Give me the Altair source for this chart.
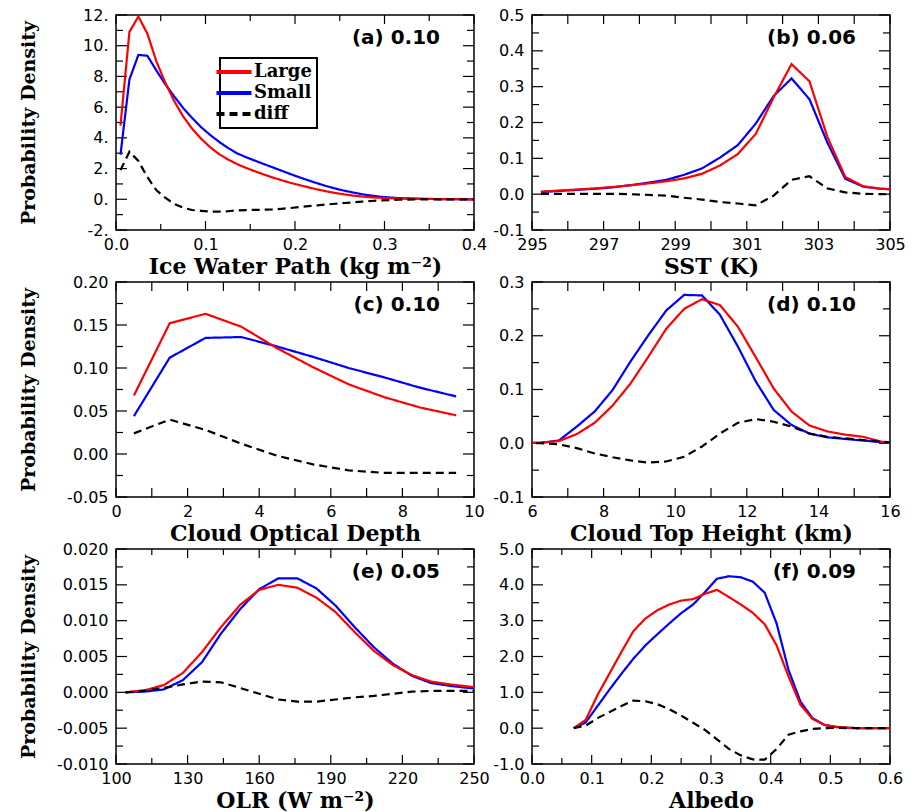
import altair as alt
import pandas as pd

# ---------------------------------------------------------------- data
SERIES = ["Large", "Small", "diff"]
COLORS = ["#ff0000", "#0000ff", "#000000"]
DASHES = [[1, 0], [1, 0], [8, 5]]

# (a) ice water path
a_x = [0.005, 0.015, 0.025, 0.035, 0.045, 0.055, 0.065, 0.075, 0.085, 0.095,
       0.105, 0.115, 0.125, 0.135, 0.145, 0.155, 0.165, 0.175, 0.185, 0.195,
       0.205, 0.215, 0.225, 0.235, 0.245, 0.255, 0.265, 0.275, 0.285, 0.295,
       0.305, 0.315, 0.325, 0.335, 0.345, 0.355, 0.365, 0.375, 0.385, 0.395, 0.405]
a_large = [4.8, 10.9, 11.9, 10.8, 9.0, 7.6, 6.4, 5.4, 4.6, 3.95,
           3.4, 2.95, 2.6, 2.3, 2.05, 1.83, 1.62, 1.42, 1.24, 1.07,
           0.92, 0.78, 0.64, 0.52, 0.41, 0.32, 0.24, 0.18, 0.13, 0.10,
           0.07, 0.05, 0.04, 0.03, 0.02, 0.02, 0.01, 0.01, 0.01, 0.0, 0.0]
a_small = [2.9, 7.8, 9.4, 9.35, 8.4, 7.5, 6.7, 5.95, 5.3, 4.7,
           4.2, 3.75, 3.35, 3.0, 2.75, 2.52, 2.3, 2.08, 1.86, 1.64,
           1.43, 1.23, 1.04, 0.86, 0.70, 0.56, 0.44, 0.33, 0.24, 0.17,
           0.12, 0.08, 0.06, 0.04, 0.03, 0.02, 0.01, 0.01, 0.0, 0.0, 0.0]
a_diff = [1.9, 3.1, 2.5, 1.45, 0.6, 0.1, -0.3, -0.55, -0.7, -0.75,
          -0.8, -0.8, -0.78, -0.72, -0.7, -0.69, -0.68, -0.66, -0.62, -0.57,
          -0.51, -0.45, -0.4, -0.34, -0.29, -0.24, -0.2, -0.15, -0.11, -0.07,
          -0.05, -0.03, -0.02, -0.01, -0.01, 0.0, 0.0, 0.0, 0.0, 0.0, 0.0]

# (b) sea surface temperature
b_x = [295.25, 295.75, 296.25, 296.75, 297.25, 297.75, 298.25, 298.75, 299.25, 299.75,
       300.25, 300.75, 301.25, 301.75, 302.25, 302.75, 303.25, 303.75, 304.25, 304.75, 305.25]
b_large = [0.007, 0.010, 0.013, 0.016, 0.020, 0.025, 0.030, 0.036, 0.044, 0.057,
           0.080, 0.112, 0.168, 0.270, 0.363, 0.315, 0.160, 0.048, 0.022, 0.015, 0.012]
b_small = [0.006, 0.009, 0.012, 0.015, 0.019, 0.025, 0.032, 0.040, 0.054, 0.072,
           0.102, 0.137, 0.197, 0.274, 0.323, 0.265, 0.144, 0.043, 0.021, 0.015, 0.013]
b_diff = [0.001, 0.001, 0.001, 0.001, 0.001, 0.000, -0.002, -0.004, -0.010, -0.015,
          -0.022, -0.026, -0.031, -0.004, 0.040, 0.050, 0.016, 0.005, 0.001, 0.000, -0.001]

# (c) cloud optical depth
c_x = [0.5, 1.5, 2.5, 3.5, 4.5, 5.5, 6.5, 7.5, 8.5, 9.5]
c_large = [0.068, 0.152, 0.163, 0.148, 0.123, 0.101, 0.081, 0.066, 0.054, 0.045]
c_small = [0.044, 0.112, 0.135, 0.136, 0.125, 0.113, 0.100, 0.089, 0.077, 0.067]
c_diff = [0.024, 0.040, 0.028, 0.012, -0.002, -0.012, -0.019, -0.022, -0.022, -0.022]

# (d) cloud top height
d_x = [5.75, 6.25, 6.75, 7.25, 7.75, 8.25, 8.75, 9.25, 9.75, 10.25, 10.75,
       11.25, 11.75, 12.25, 12.75, 13.25, 13.75, 14.25, 14.75, 15.25, 15.75, 16.25]
d_large = [0.0, 0.001, 0.004, 0.017, 0.038, 0.070, 0.111, 0.161, 0.213, 0.250, 0.268,
           0.257, 0.217, 0.160, 0.102, 0.059, 0.033, 0.022, 0.016, 0.012, 0.003, 0.0]
d_small = [0.0, 0.001, 0.005, 0.031, 0.059, 0.099, 0.152, 0.201, 0.247, 0.276, 0.275,
           0.239, 0.180, 0.115, 0.062, 0.034, 0.018, 0.011, 0.008, 0.005, 0.002, 0.0]
d_diff = [0.0, 0.0, -0.002, -0.009, -0.019, -0.026, -0.032, -0.036, -0.034, -0.025, -0.006,
          0.018, 0.038, 0.045, 0.040, 0.031, 0.018, 0.012, 0.009, 0.006, 0.003, 0.0]

# (e) outgoing longwave radiation
e_x = [104, 112, 120, 128, 136, 144, 152, 160, 168, 176,
       184, 192, 200, 208, 216, 224, 232, 240, 248, 256]
e_large = [0.0000, 0.0003, 0.0010, 0.0027, 0.0056, 0.0091, 0.0122, 0.0143, 0.0150, 0.0146,
           0.0132, 0.0112, 0.0084, 0.0058, 0.0038, 0.0024, 0.0015, 0.0011, 0.0008, 0.0006]
e_small = [0.0000, 0.0001, 0.0004, 0.0017, 0.0042, 0.0082, 0.0116, 0.0144, 0.0159, 0.0159,
           0.0145, 0.0121, 0.0091, 0.0063, 0.0040, 0.0023, 0.0013, 0.0009, 0.0006, 0.0005]
e_diff = [0.0000, 0.0002, 0.0006, 0.0011, 0.0015, 0.0014, 0.0006, -0.0002, -0.0010, -0.0013,
          -0.0013, -0.0010, -0.0007, -0.0005, -0.0002, 0.0001, 0.0002, 0.0002, 0.0002, 0.0002]

# (f) albedo
f_x = [0.07, 0.09, 0.11, 0.13, 0.15, 0.17, 0.19, 0.21, 0.23, 0.25, 0.27, 0.29, 0.31, 0.33,
       0.35, 0.37, 0.39, 0.41, 0.43, 0.45, 0.47, 0.49, 0.51, 0.53, 0.55, 0.57, 0.59, 0.61]
f_large = [0.0, 0.23, 0.93, 1.53, 2.13, 2.71, 3.06, 3.29, 3.45, 3.56, 3.60, 3.75, 3.86, 3.66,
           3.45, 3.22, 2.90, 2.31, 1.44, 0.65, 0.26, 0.09, 0.04, 0.01, 0.0, 0.0, 0.0, 0.0]
f_small = [0.0, 0.16, 0.62, 1.08, 1.52, 1.94, 2.31, 2.62, 2.92, 3.21, 3.45, 3.80, 4.17, 4.24,
           4.21, 4.09, 3.78, 2.92, 1.62, 0.74, 0.28, 0.09, 0.03, 0.01, 0.0, 0.0, 0.0, 0.0]
f_diff = [0.0, 0.07, 0.28, 0.45, 0.62, 0.77, 0.75, 0.67, 0.53, 0.35, 0.15, -0.05, -0.31, -0.58,
          -0.76, -0.87, -0.88, -0.58, -0.18, -0.09, -0.02, 0.0, 0.01, 0.0, 0.0, 0.0, 0.0, 0.0]

# ---------------------------------------------------------------- styling
W, H = 358, 215
LABEL_FONT = "DejaVu Sans"
TITLE_FONT = "DejaVu Serif"


def num_expr(fmt):
    # d3 formats negatives with a typographic minus; use a plain hyphen instead
    return "replace(format(datum.value, '" + fmt + "'), '\u2212', '-')"


def long_frame(x, large, small, diff):
    rows = []
    for name, vals in zip(SERIES, (large, small, diff)):
        for xv, yv in zip(x, vals):
            rows.append({"x": xv, "y": yv, "series": name})
    return pd.DataFrame(rows)


def panel(tag, x, large, small, diff, xdom, ydom, xlabels, xexpr, ylabels, yexpr,
          xmajor, xminor, ymajor, yminor, xtitle, ytitle=None, legend=False):
    df = long_frame(x, large, small, diff)
    xscale = alt.Scale(domain=xdom, nice=False, zero=False)
    yscale = alt.Scale(domain=ydom, nice=False, zero=False)

    xaxis = alt.Axis(values=xlabels, labelExpr=xexpr, title=xtitle, ticks=False, tickSize=0,
                     domain=False, grid=False, labelPadding=6, labelFlush=False,
                     labelOverlap=False, titleFontSize=22, titleX=W / 2, titleY=43,
                     titleAlign="center", titleBaseline="alphabetic")
    if ytitle:
        yaxis = alt.Axis(values=ylabels, labelExpr=yexpr, title=ytitle, ticks=False, tickSize=0,
                         domain=False, grid=False, labelPadding=8, labelFlush=False,
                         labelOverlap=False, titleFontSize=19, titleX=-88, titleY=H / 2,
                         titleAngle=270, titleAlign="center", titleBaseline="middle")
    else:
        yaxis = alt.Axis(values=ylabels, labelExpr=yexpr, title=None, ticks=False, tickSize=0,
                         domain=False, grid=False, labelPadding=8, labelFlush=False,
                         labelOverlap=False)

    if legend:
        leg = alt.Legend(orient="none", legendX=104, legendY=43, title=None,
                         symbolType="M-2.5,0H2.5", symbolSize=196, symbolStrokeWidth=4,
                         labelFont=TITLE_FONT, labelFontWeight="bold", labelFontSize=18,
                         labelColor="black", labelOffset=11, strokeColor="black",
                         fillColor="white", padding=5, rowPadding=3)
    else:
        leg = None

    # inward frame ticks on all four sides
    def ticks(values, side, length):
        base = alt.Chart(pd.DataFrame({"v": values})).mark_rule(color="black", strokeWidth=1.2)
        if side == "bottom":
            return base.encode(x=alt.X("v:Q", scale=xscale, axis=xaxis),
                               y=alt.value(H), y2=alt.value(H - length))
        if side == "top":
            return base.encode(x=alt.X("v:Q", scale=xscale, axis=xaxis),
                               y=alt.value(0), y2=alt.value(length))
        if side == "left":
            return base.encode(y=alt.Y("v:Q", scale=yscale, axis=yaxis),
                               x=alt.value(0), x2=alt.value(length))
        return base.encode(y=alt.Y("v:Q", scale=yscale, axis=yaxis),
                           x=alt.value(W), x2=alt.value(W - length))

    tick_layers = [
        ticks(xmajor, "bottom", 9), ticks(xmajor, "top", 9),
        ticks(ymajor, "left", 11), ticks(ymajor, "right", 11),
    ]
    if xminor:
        tick_layers += [ticks(xminor, "bottom", 6), ticks(xminor, "top", 6)]
    if yminor:
        tick_layers += [ticks(yminor, "left", 7), ticks(yminor, "right", 7)]

    def series_line(name):
        return alt.Chart(df).transform_filter(
            alt.datum.series == name
        ).mark_line(strokeWidth=2.2, clip=True).encode(
            x=alt.X("x:Q", scale=xscale, axis=xaxis),
            y=alt.Y("y:Q", scale=yscale, axis=yaxis),
            color=alt.Color("series:N", scale=alt.Scale(domain=SERIES, range=COLORS), legend=leg),
            strokeDash=alt.StrokeDash("series:N", scale=alt.Scale(domain=SERIES, range=DASHES),
                                      legend=leg),
        )

    label = alt.Chart(pd.DataFrame({"t": [tag]})).mark_text(
        align="right", baseline="alphabetic", font=LABEL_FONT, fontWeight="bold",
        fontSize=20, color="black"
    ).encode(text="t:N", x=alt.value(W - 34), y=alt.value(29))

    return alt.layer(*tick_layers, series_line("Small"), series_line("Large"),
                     series_line("diff"), label).properties(width=W, height=H)


pa = panel("(a) 0.10", a_x, a_large, a_small, a_diff, [0, 0.4], [-2, 12],
           [0, 0.1, 0.2, 0.3, 0.4], num_expr(".1f"),
           [-2, 0, 2, 4, 6, 8, 10, 12], "datum.value + '.'",
           [0, 0.1, 0.2, 0.3, 0.4], [0.05, 0.15, 0.25, 0.35],
           [-2, 0, 2, 4, 6, 8, 10, 12], [-1, 1, 3, 5, 7, 9, 11],
           "Ice Water Path (kg m\u207b\u00b2)", "Probability Density", legend=True)

pb = panel("(b) 0.06", b_x, b_large, b_small, b_diff, [295, 305], [-0.1, 0.5],
           [295, 297, 299, 301, 303, 305], num_expr("d"),
           [-0.1, 0.0, 0.1, 0.2, 0.3, 0.4, 0.5], num_expr(".1f"),
           [295, 296, 297, 298, 299, 300, 301, 302, 303, 304, 305], [],
           [-0.1, 0.0, 0.1, 0.2, 0.3, 0.4, 0.5], [-0.05, 0.05, 0.15, 0.25, 0.35, 0.45],
           "SST (K)")

pc = panel("(c) 0.10", c_x, c_large, c_small, c_diff, [0, 10], [-0.05, 0.20],
           [0, 2, 4, 6, 8, 10], num_expr("d"),
           [-0.05, 0.0, 0.05, 0.10, 0.15, 0.20], num_expr(".2f"),
           [0, 1, 2, 3, 4, 5, 6, 7, 8, 9, 10], [],
           [-0.05, 0.0, 0.05, 0.10, 0.15, 0.20], [-0.025, 0.025, 0.075, 0.125, 0.175],
           "Cloud Optical Depth", "Probability Density")

pd_ = panel("(d) 0.10", d_x, d_large, d_small, d_diff, [6, 16], [-0.1, 0.3],
            [6, 8, 10, 12, 14, 16], num_expr("d"),
            [-0.1, 0.0, 0.1, 0.2, 0.3], num_expr(".1f"),
            [6, 7, 8, 9, 10, 11, 12, 13, 14, 15, 16], [],
            [-0.1, 0.0, 0.1, 0.2, 0.3], [-0.05, 0.05, 0.15, 0.25],
            "Cloud Top Height (km)")

pe = panel("(e) 0.05", e_x, e_large, e_small, e_diff, [100, 250], [-0.010, 0.020],
           [100, 130, 160, 190, 220, 250], num_expr("d"),
           [-0.010, -0.005, 0.0, 0.005, 0.010, 0.015, 0.020], num_expr(".3f"),
           [100, 130, 160, 190, 220, 250], [115, 145, 175, 205, 235],
           [-0.010, -0.005, 0.0, 0.005, 0.010, 0.015, 0.020],
           [-0.0075, -0.0025, 0.0025, 0.0075, 0.0125, 0.0175],
           "OLR (W m\u207b\u00b2)", "Probability Density")

pf = panel("(f) 0.09", f_x, f_large, f_small, f_diff, [0, 0.6], [-1, 5],
           [0, 0.1, 0.2, 0.3, 0.4, 0.5, 0.6], num_expr(".1f"),
           [-1, 0, 1, 2, 3, 4, 5], num_expr(".1f"),
           [0, 0.1, 0.2, 0.3, 0.4, 0.5, 0.6], [0.05, 0.15, 0.25, 0.35, 0.45, 0.55],
           [-1, 0, 1, 2, 3, 4, 5], [-0.5, 0.5, 1.5, 2.5, 3.5, 4.5],
           "Albedo")

chart = alt.concat(
    pa, pb, pc, pd_, pe, pf, columns=2, spacing={"row": 52, "column": 58}, bounds="flush"
).resolve_scale(
    x="independent", y="independent", color="independent", strokeDash="independent"
).resolve_legend(
    color="independent", strokeDash="independent"
).configure_view(
    stroke="black", strokeWidth=1.5
).configure_axis(
    labelFont=LABEL_FONT, labelFontSize=16, labelColor="black",
    titleFont=TITLE_FONT, titleFontWeight="bold", titleColor="black"
).configure_legend(
    strokeWidth=2
).properties(
    padding={"left": 18, "top": 6, "right": 5, "bottom": 0}, background="white"
)

chart.save("out.html", embed_options={"renderer": "svg", "actions": False})
